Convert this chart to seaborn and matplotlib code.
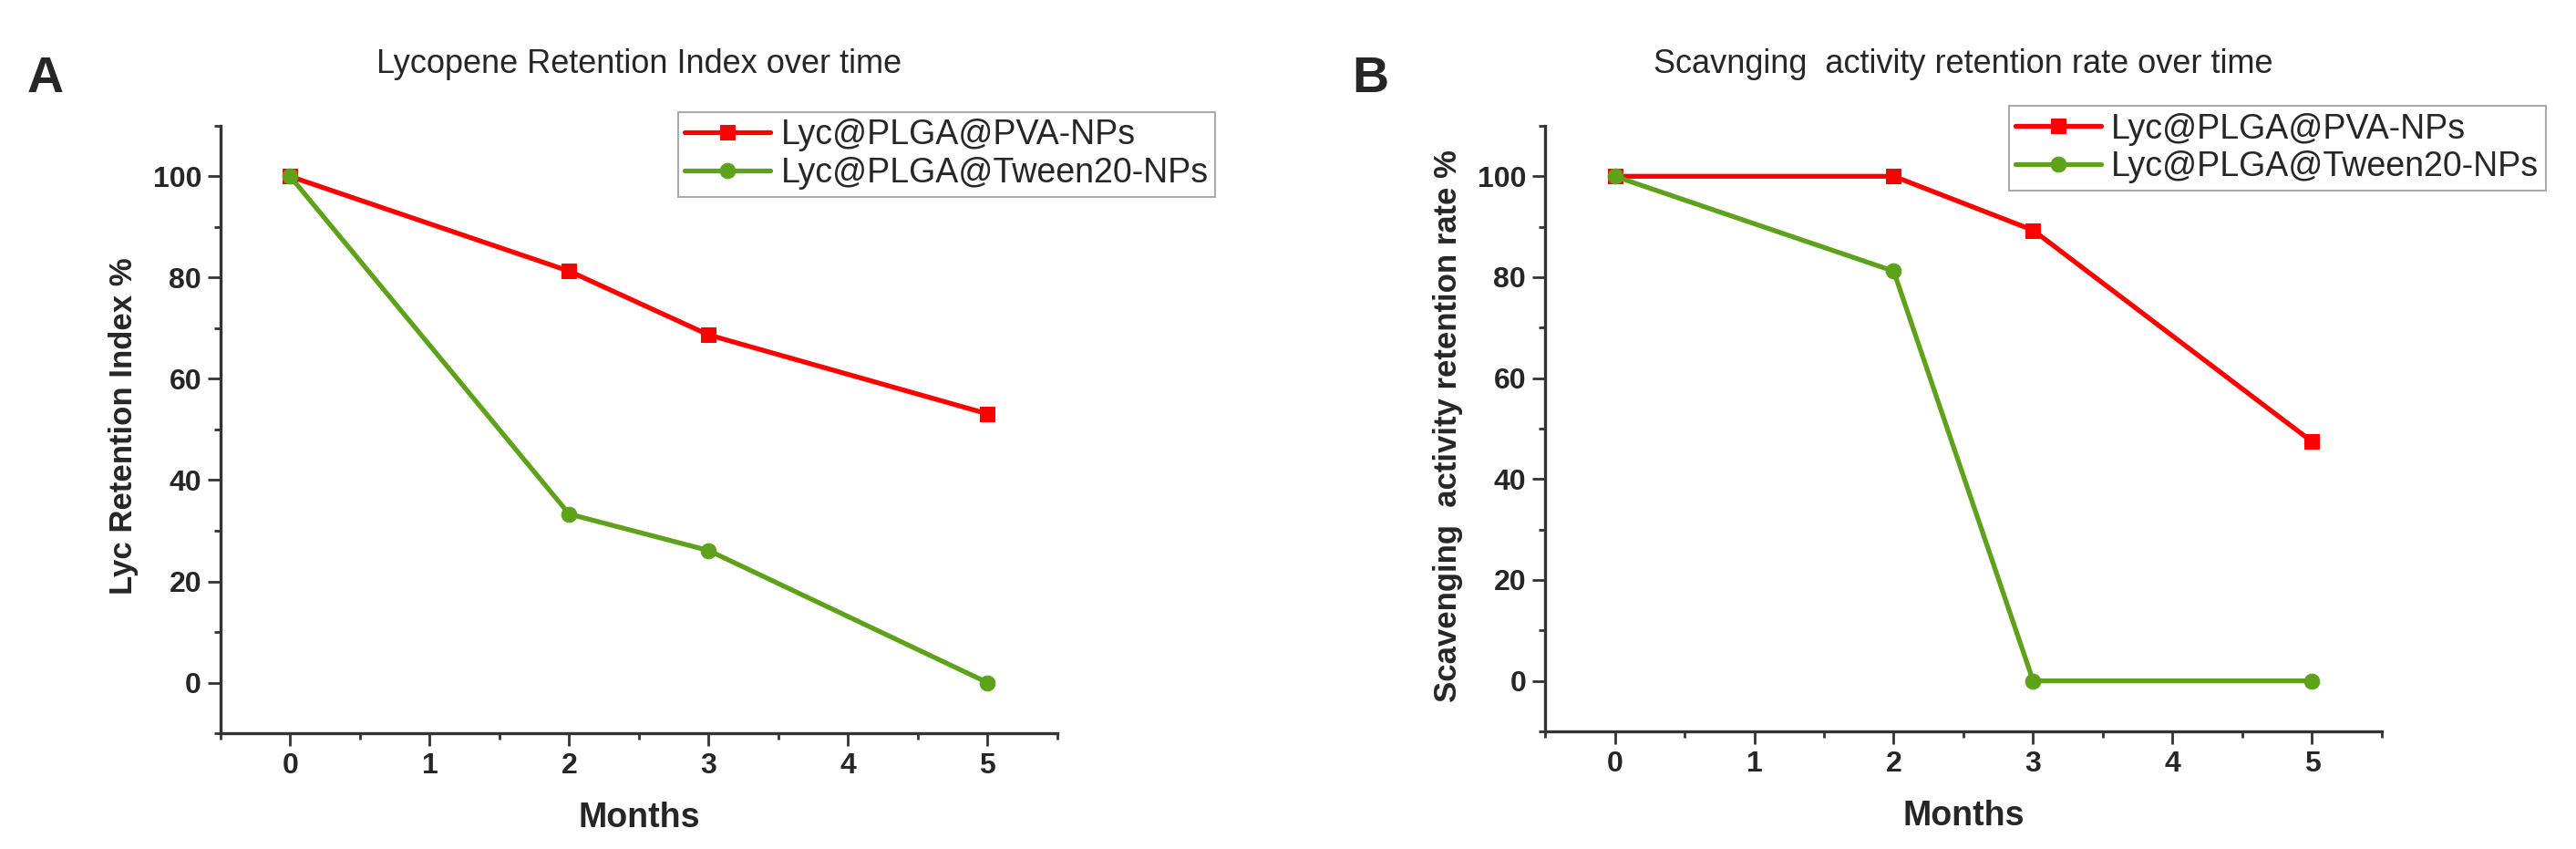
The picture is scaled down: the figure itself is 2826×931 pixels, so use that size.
import numpy as np
import pandas as pd
import seaborn as sns
import matplotlib.pyplot as plt
from matplotlib.ticker import AutoMinorLocator

# values
months = [0, 2, 3, 5]
series_names = ['Lyc@PLGA@PVA-NPs', 'Lyc@PLGA@Tween20-NPs']
lyc_pva = [100, 81.3, 68.7, 53.1]
lyc_tween = [100, 33.3, 26.1, 0]
scav_pva = [100, 100, 89.3, 47.4]
scav_tween = [100, 81.2, 0, 0]

panel_titles = ['Lycopene Retention Index over time',
                'Scavnging  activity retention rate over time']
y_labels = ['Lyc Retention Index %', 'Scavenging  activity retention rate %']
panel_letters = ['A', 'B']
x_ticks = [0, 1, 2, 3, 4, 5]
y_ticks = [0, 20, 40, 60, 80, 100]

colors = {'Lyc@PLGA@PVA-NPs': '#ff0000', 'Lyc@PLGA@Tween20-NPs': '#5ea11b'}
markers = {'Lyc@PLGA@PVA-NPs': 's', 'Lyc@PLGA@Tween20-NPs': 'o'}

sns.set_style('ticks')
plt.rcParams['font.family'] = ['Liberation Sans', 'DejaVu Sans']

fig = plt.figure(figsize=(28.26, 9.31), dpi=100)
ax_a = fig.add_axes([0.0856, 0.1364, 0.3248, 0.7154])
ax_b = fig.add_axes([0.5998, 0.1386, 0.3248, 0.7132])

panels = [(ax_a, lyc_pva, lyc_tween), (ax_b, scav_pva, scav_tween)]
legend_anchor = [(0.547, 1.0225), (0.554, 1.033)]

for i, (ax, pva, tween) in enumerate(panels):
    df = pd.DataFrame({
        'Months': months * 2,
        'value': pva + tween,
        'series': [series_names[0]] * len(months) + [series_names[1]] * len(months),
    })
    for name in series_names:
        sub = df[df['series'] == name]
        sns.lineplot(data=sub, x='Months', y='value', ax=ax, color=colors[name],
                     marker=markers[name], markersize=12, markeredgecolor=colors[name],
                     linewidth=3.8, label=name)

    ax.set_xlim(-0.5, 5.5)
    ax.set_ylim(-10, 110)
    ax.set_xticks(x_ticks)
    ax.set_yticks(y_ticks)
    ax.xaxis.set_minor_locator(AutoMinorLocator(2))
    ax.yaxis.set_minor_locator(AutoMinorLocator(2))
    ax.tick_params(which='major', direction='out', length=10, width=2, color='#333333',
                   labelsize=23, pad=5)
    ax.tick_params(which='minor', direction='out', length=5, width=2, color='#333333')
    for lab in ax.get_xticklabels() + ax.get_yticklabels():
        lab.set_fontweight('bold')

    sns.despine(ax=ax)
    for side in ['left', 'bottom']:
        ax.spines[side].set_linewidth(2.4)
        ax.spines[side].set_color('#333333')

    ax.set_xlabel('Months', fontsize=27, fontweight='bold')
    ax.xaxis.set_label_coords(0.5, -0.113)
    ax.set_ylabel(y_labels[i], fontsize=25, fontweight='bold')
    ax.yaxis.set_label_coords(-0.098, 0.505)
    ax.set_title(panel_titles[i], fontsize=26, pad=42)

    leg = ax.legend(loc='upper left', bbox_to_anchor=legend_anchor[i], fontsize=27,
                    frameon=True, fancybox=False, framealpha=1, edgecolor='#aaaaaa',
                    handlelength=2.5, labelspacing=0.15, borderpad=0.2,
                    handletextpad=0.3, borderaxespad=0)
    leg.get_frame().set_linewidth(1.5)

    ax.text(-0.209, 1.077, panel_letters[i], transform=ax.transAxes, fontsize=40,
            fontweight='bold', ha='center', va='center')

fig.savefig('out.png', dpi=100)
